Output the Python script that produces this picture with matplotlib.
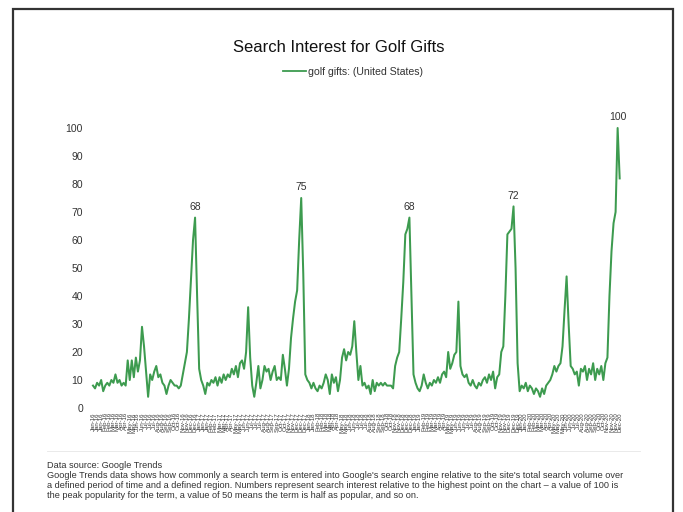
import pandas as pd
import matplotlib.pyplot as plt
from matplotlib.patches import Rectangle
from matplotlib.lines import Line2D

plt.rcParams['font.family'] = ['Liberation Sans', 'DejaVu Sans']

# weekly Google Trends values, Jan 2016 - Dec 2020
weekly_interest = [
    8, 7, 9, 8, 10, 6, 8, 9, 8, 10, 9, 12, 9, 10, 8, 9, 8, 17, 10, 17,
    11, 18, 13, 17, 29, 22, 13, 4, 12, 10, 13, 15, 11, 12, 9, 8, 5, 8, 10, 9,
    8, 8, 7, 8, 12, 16, 20, 32, 46, 60, 68, 40, 14, 10, 8, 5, 9, 8, 10, 9,
    11, 8, 11, 9, 12, 10, 12, 11, 14, 12, 15, 11, 16, 17, 14, 20, 36, 18, 8, 4,
    9, 15, 7, 10, 15, 13, 14, 10, 13, 15, 10, 11, 10, 19, 14, 8, 14, 25, 32, 38,
    42, 60, 75, 48, 12, 10, 9, 7, 9, 7, 6, 8, 7, 9, 12, 10, 5, 12, 9, 11,
    6, 10, 18, 21, 17, 20, 19, 22, 31, 20, 10, 15, 8, 9, 7, 8, 5, 10, 6, 9,
    8, 9, 8, 9, 8, 8, 8, 7, 15, 18, 20, 32, 45, 62, 64, 68, 40, 12, 9, 7,
    6, 8, 12, 9, 7, 9, 8, 10, 9, 11, 9, 12, 13, 11, 20, 14, 16, 19, 20, 38,
    15, 12, 11, 12, 9, 8, 10, 8, 7, 9, 8, 10, 11, 9, 12, 10, 13, 7, 11, 12,
    20, 22, 40, 62, 63, 64, 72, 50, 16, 6, 8, 7, 9, 6, 8, 7, 5, 7, 6, 4,
    7, 5, 8, 9, 10, 12, 15, 13, 15, 16, 22, 35, 47, 30, 15, 14, 12, 13, 8, 14,
    13, 15, 10, 14, 12, 16, 10, 14, 12, 15, 10, 16, 18, 40, 56, 66, 70, 100, 82,
]
weeks = pd.date_range("2016-01-03", periods=len(weekly_interest), freq="W-SUN")
tick_labels = [d.strftime("%b-%y") for d in weeks]

# yearly holiday peaks that get a number on top
peak_idx = [50, 102, 155, 206, 257]

green = "#3d9b4f"
W, H = 683, 512

fig = plt.figure(figsize=(W / 100, H / 100), dpi=100)
fig.patch.set_facecolor("white")

# axes placed in pixels: x from 90 to 626, y (0) at 408 and (100) at 128
ax = fig.add_axes([90 / W, (H - 408) / H, (626 - 90) / W, 280 / H])
x = list(range(len(weekly_interest)))
ax.plot(x, weekly_interest, color=green, lw=1.45, clip_on=False, zorder=3)
ax.set_xlim(-1.47, 261.1)
ax.set_ylim(0, 100)

for i in peak_idx:
    ax.annotate(str(weekly_interest[i]), (i, weekly_interest[i]), xytext=(0, 4),
                textcoords="offset points", ha="center", va="bottom",
                fontsize=7.5, color="#333333")

ax.set_yticks(range(0, 101, 10))
ax.tick_params(axis="y", length=0, labelsize=7.5, labelcolor="#333333", pad=5)
ax.set_xticks(x[::2])
ax.set_xticklabels(tick_labels[::2], rotation=90, fontsize=4.4, color="#3a3a3a")
ax.tick_params(axis="x", length=0, pad=3)
ax.set_xticks(x[::4], minor=True)
ax.grid(axis="x", which="minor", color="#f0f0f0", lw=0.6)
ax.tick_params(axis="x", which="minor", length=0)
for s in ax.spines.values():
    s.set_visible(False)

fig.text(339 / W, 1 - 48 / H, "Search Interest for Golf Gifts", ha="center",
         va="center", fontsize=12, color="#111111")
handle = Line2D([], [], color=green, lw=1.3)
fig.legend([handle], ["golf gifts: (United States)"], loc="center",
           bbox_to_anchor=(353 / W, 1 - 72 / H), frameon=False, fontsize=7.6,
           handlelength=2.2, handletextpad=0.15, labelcolor="#333333")

# separator and footnote
fig.add_artist(Line2D([47 / W, 640 / W], [1 - 451 / H, 1 - 451 / H],
                      color="#e6e6e6", lw=0.6))
notes = [
    "Data source: Google Trends",
    "Google Trends data shows how commonly a search term is entered into Google's search engine relative to the site's total search volume over",
    "a defined period of time and a defined region. Numbers represent search interest relative to the highest point on the chart \u2013 a value of 100 is",
    "the peak popularity for the term, a value of 50 means the term is half as popular, and so on.",
]
for line, y in zip(notes, [465, 476, 485.5, 495]):
    fig.text(47 / W, 1 - y / H, line, ha="left", va="center", fontsize=6.6,
             color="#333333")

# dark frame around the slide
fig.add_artist(Rectangle((13 / W, -0.02), 660 / W, 1 - 9 / H + 0.02,
                         transform=fig.transFigure, fill=False,
                         ec="#333333", lw=1.6))

plt.savefig("out.png", dpi=100, facecolor="white")
plt.close()
